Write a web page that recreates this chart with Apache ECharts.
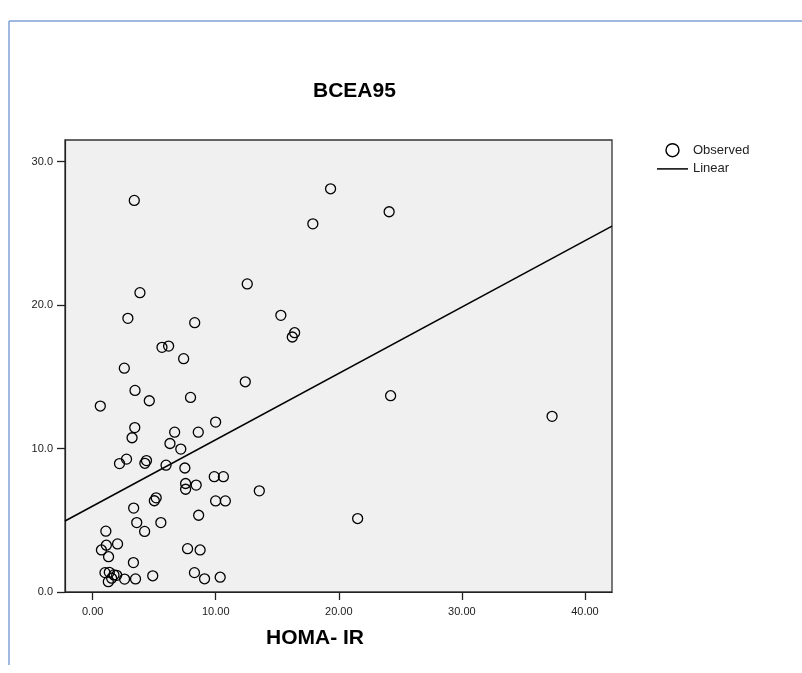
<!DOCTYPE html>
<html>
<head>
<meta charset="utf-8">
<script src="https://cdn.jsdelivr.net/npm/echarts@6/dist/echarts.min.js"></script>
<style>
html,body{margin:0;padding:0;background:#fff;}
#chart{width:802px;height:673px;}
</style>
</head>
<body>
<div id="chart"></div>
<script>
// HOMA-IR (x) vs BCEA95 (y), observed values
var homaIR = [3.38,19.33,17.89,24.09,3.84,12.56,2.86,8.29,15.29,16.41,16.22,5.63,6.17,7.39,2.57,12.40,3.44,7.95,4.60,0.62,
  9.99,3.42,6.66,8.58,3.20,6.28,7.16,2.75,2.18,4.37,4.24,5.96,7.49,9.88,10.62,7.55,8.41,7.55,13.54,5.16,
  5.01,9.99,10.78,3.33,8.61,3.58,5.54,1.07,4.22,1.11,2.02,0.71,7.71,8.73,1.29,3.31,1.00,1.35,1.73,1.95,
  1.54,1.27,2.59,3.48,4.88,8.27,9.09,10.36,24.21,37.33,21.53];
var bcea95 = [27.29,28.10,25.66,26.50,20.86,21.47,19.07,18.77,19.28,18.07,17.77,17.05,17.14,16.26,15.60,14.65,14.05,13.56,13.33,12.96,
  11.84,11.46,11.14,11.14,10.75,10.35,9.96,9.26,8.95,9.16,8.97,8.84,8.64,8.04,8.04,7.56,7.45,7.16,7.05,6.56,
  6.36,6.35,6.35,5.85,5.35,4.84,4.84,4.24,4.22,3.26,3.35,2.93,3.02,2.93,2.46,2.05,1.35,1.37,1.19,1.16,
  0.96,0.72,0.90,0.91,1.13,1.35,0.92,1.03,13.68,12.24,5.12];
// fitted linear line endpoints
var linearX = [-2.25, 42.2];
var linearY = [4.95, 25.5];
var xTicks = [0, 10, 20, 30, 40];
var yTicks = [0, 10, 20, 30];
var xRange = [-2.25, 42.2];
var yRange = [0, 31.5];

var observed = homaIR.map(function(v, i){ return [v, bcea95[i]]; });
var linear = linearX.map(function(v, i){ return [v, linearY[i]]; });

var chart = echarts.init(document.getElementById('chart'), null, {renderer:'canvas'});
var font = 'Liberation Sans, Arial, sans-serif';
chart.setOption({
  backgroundColor: '#ffffff',
  animation: false,
  title: {
    text: 'BCEA95',
    left: 313,
    top: 81,
    padding: 0,
    textStyle: {fontFamily: font, fontSize: 21, fontWeight: 'bold', color: '#000'}
  },
  legend: {
    orient: 'vertical',
    left: 657,
    top: 143,
    padding: 0,
    itemWidth: 31,
    itemHeight: 13,
    itemGap: 5,
    symbolKeepAspect: true,
    textStyle: {fontFamily: font, fontSize: 13, color: '#222'},
    data: [
      {name: 'Observed', icon: 'circle', itemStyle: {color: 'rgba(0,0,0,0)', borderColor: '#000', borderWidth: 1.4}},
      {name: 'Linear', icon: 'path://M0,0H62V3H0Z', itemStyle: {color: '#000', borderWidth: 0}}
    ]
  },
  grid: {
    left: 65, right: 190, top: 140, bottom: 81,
    show: true,
    backgroundColor: '#f0f0f0',
    borderColor: '#333',
    borderWidth: 1.3
  },
  xAxis: {
    type: 'value',
    min: xRange[0], max: xRange[1],
    name: 'HOMA- IR',
    nameLocation: 'middle',
    nameGap: 36,
    nameTextStyle: {fontFamily: font, fontSize: 21, fontWeight: 'bold', color: '#000', padding: [0, 47, 0, 0]},
    splitLine: {show: false},
    axisLine: {show: true, onZero: false, lineStyle: {color: '#222', width: 1.2}},
    axisTick: {show: true, inside: false, length: 8, lineStyle: {color: '#222', width: 1.3}, customValues: xTicks},
    axisLabel: {fontFamily: font, fontSize: 11, color: '#222', margin: 14, customValues: xTicks,
      formatter: function(v){ return v.toFixed(2); }}
  },
  yAxis: {
    type: 'value',
    min: yRange[0], max: yRange[1],
    splitLine: {show: false},
    axisLine: {show: true, onZero: false, lineStyle: {color: '#222', width: 1.2}},
    axisTick: {show: true, inside: false, length: 8, lineStyle: {color: '#222', width: 1.3}, customValues: yTicks},
    axisLabel: {fontFamily: font, fontSize: 11, color: '#222', margin: 12, customValues: yTicks,
      formatter: function(v){ return v.toFixed(1); }}
  },
  graphic: [
    {type: 'line', shape: {x1: 9, y1: 21, x2: 802, y2: 21}, style: {stroke: '#7ea0d6', lineWidth: 1.5}},
    {type: 'line', shape: {x1: 9, y1: 21, x2: 9, y2: 665}, style: {stroke: '#7ea0d6', lineWidth: 1.5}}
  ],
  series: [
    {
      name: 'Observed',
      type: 'scatter',
      data: observed,
      symbol: 'circle',
      symbolSize: 10,
      itemStyle: {color: 'rgba(0,0,0,0)', borderColor: '#000', borderWidth: 1.3, opacity: 1},
      z: 3
    },
    {
      name: 'Linear',
      type: 'line',
      data: linear,
      symbol: 'none',
      showSymbol: false,
      lineStyle: {color: '#000', width: 1.5},
      itemStyle: {color: '#000'},
      z: 2
    }
  ]
});
</script>
</body>
</html>
